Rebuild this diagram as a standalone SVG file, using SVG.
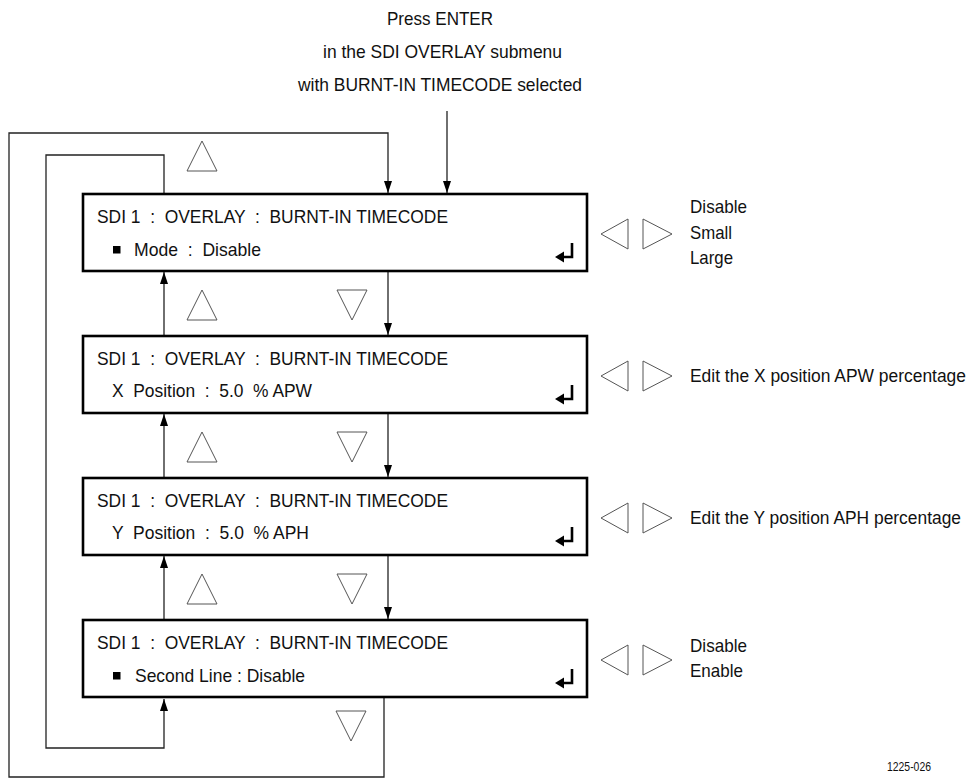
<svg xmlns="http://www.w3.org/2000/svg" width="980" height="779" viewBox="0 0 980 779">
<defs>
<style>
text{font-family:"Liberation Sans",Arial,sans-serif;font-size:19px;fill:#111;white-space:pre}
.box{fill:#fff;stroke:#000;stroke-width:2.6}
.con{fill:none;stroke:#222;stroke-width:1.3}
.tri{fill:#fff;stroke:#555;stroke-width:1}
.ent{fill:none;stroke:#000;stroke-width:2.6}
.small{font-size:13px}
.long{font-size:17.5px}
</style>
<marker id="ah" markerUnits="userSpaceOnUse" markerWidth="12" markerHeight="8" refX="12" refY="4" orient="auto">
<path d="M0,0 L12,4 L0,8 z" fill="#000"/>
</marker>
<g id="enterSym">
<path class="ent" d="M572,49 V63 H561"/>
<path d="M555,63 L564,57.5 L564,68.5 z" fill="#000"/>
</g>
<g id="lr">
<polygon class="tri" points="601,1.5 628,-13.5 628,16.5"/>
<polygon class="tri" points="643,-13.5 643,16.5 672,1.5"/>
</g>
</defs>

<g id="title">
<text x="387" y="25" textLength="106" lengthAdjust="spacingAndGlyphs">Press ENTER</text>
<text x="323" y="58" textLength="239" lengthAdjust="spacingAndGlyphs">in the SDI OVERLAY submenu</text>
<text x="298" y="91" textLength="284" lengthAdjust="spacingAndGlyphs">with BURNT-IN TIMECODE selected</text>
</g>

<g id="connectors">
<line class="con" x1="447" y1="111" x2="447" y2="193" marker-end="url(#ah)"/>
<path class="con" d="M384,698 V777 H9 V133 H388 V193" marker-end="url(#ah)"/>
<path class="con" d="M164,194 V155 H46 V748 H164 V699" marker-end="url(#ah)"/>
<line class="con" x1="388" y1="272" x2="388" y2="335" marker-end="url(#ah)"/>
<line class="con" x1="388" y1="414" x2="388" y2="477" marker-end="url(#ah)"/>
<line class="con" x1="388" y1="556" x2="388" y2="619" marker-end="url(#ah)"/>
<line class="con" x1="164" y1="336" x2="164" y2="272" marker-end="url(#ah)"/>
<line class="con" x1="164" y1="478" x2="164" y2="414" marker-end="url(#ah)"/>
<line class="con" x1="164" y1="620" x2="164" y2="556" marker-end="url(#ah)"/>
</g>

<g id="nav-triangles">
<polygon class="tri" points="187,171 202,141 217,171"/>
<polygon class="tri" points="187,320 202,290 217,320"/>
<polygon class="tri" points="337,290 367,290 352,320"/>
<polygon class="tri" points="187,462 202,432 217,462"/>
<polygon class="tri" points="337,432 367,432 352,462"/>
<polygon class="tri" points="187,604 202,574 217,604"/>
<polygon class="tri" points="337,574 367,574 352,604"/>
<polygon class="tri" points="336,711 366,711 351,741"/>
</g>

<g id="node-mode">
<rect class="box" x="83" y="194" width="504" height="77"/>
<text x="97" y="223" textLength="351" lengthAdjust="spacingAndGlyphs">SDI 1  :  OVERLAY  :  BURNT-IN TIMECODE</text>
<rect x="113" y="246" width="7.5" height="7.5" fill="#000"/>
<text x="134" y="256" textLength="127" lengthAdjust="spacingAndGlyphs">Mode  :  Disable</text>
<use href="#enterSym" transform="translate(0,194)"/>
<use href="#lr" transform="translate(0,232.5)"/>
<text x="690" y="213" textLength="57" lengthAdjust="spacingAndGlyphs">Disable</text>
<text x="690" y="239" textLength="42" lengthAdjust="spacingAndGlyphs">Small</text>
<text x="690" y="264" textLength="43" lengthAdjust="spacingAndGlyphs">Large</text>
</g>

<g id="node-xpos">
<rect class="box" x="83" y="336" width="504" height="77"/>
<text x="97" y="365" textLength="351" lengthAdjust="spacingAndGlyphs">SDI 1  :  OVERLAY  :  BURNT-IN TIMECODE</text>
<text x="112" y="397" textLength="200" lengthAdjust="spacingAndGlyphs">X  Position  :  5.0  % APW</text>
<use href="#enterSym" transform="translate(0,336)"/>
<use href="#lr" transform="translate(0,374.5)"/>
<text class="long" x="690" y="382" textLength="276" lengthAdjust="spacingAndGlyphs">Edit the X position APW percentage</text>
</g>

<g id="node-ypos">
<rect class="box" x="83" y="478" width="504" height="77"/>
<text x="97" y="507" textLength="351" lengthAdjust="spacingAndGlyphs">SDI 1  :  OVERLAY  :  BURNT-IN TIMECODE</text>
<text x="112" y="539" textLength="197" lengthAdjust="spacingAndGlyphs">Y  Position  :  5.0  % APH</text>
<use href="#enterSym" transform="translate(0,478)"/>
<use href="#lr" transform="translate(0,516.5)"/>
<text class="long" x="690" y="524" textLength="271" lengthAdjust="spacingAndGlyphs">Edit the Y position APH percentage</text>
</g>

<g id="node-secondline">
<rect class="box" x="83" y="620" width="504" height="77"/>
<text x="97" y="649" textLength="351" lengthAdjust="spacingAndGlyphs">SDI 1  :  OVERLAY  :  BURNT-IN TIMECODE</text>
<rect x="113" y="672" width="7.5" height="7.5" fill="#000"/>
<text x="135" y="682" textLength="170" lengthAdjust="spacingAndGlyphs">Second Line : Disable</text>
<use href="#enterSym" transform="translate(0,620)"/>
<use href="#lr" transform="translate(0,658.5)"/>
<text x="690" y="652" textLength="57" lengthAdjust="spacingAndGlyphs">Disable</text>
<text x="690" y="677" textLength="53" lengthAdjust="spacingAndGlyphs">Enable</text>
</g>

<text class="small" x="887" y="771" textLength="44" lengthAdjust="spacingAndGlyphs">1225-026</text>
</svg>
